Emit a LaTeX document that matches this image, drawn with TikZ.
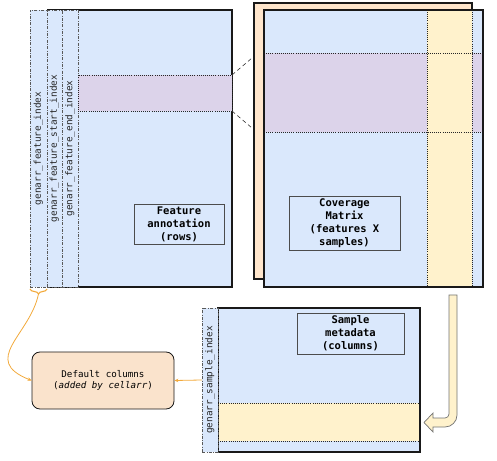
\documentclass[tikz,border=0pt]{standalone}
\usepackage{fontspec}
\setmonofont{DejaVu Sans Mono}
\usetikzlibrary{positioning, calc, arrows.meta}
\usetikzlibrary{decorations.pathreplacing}

\definecolor{tblue}{HTML}{DAE8FC}
\definecolor{tpurple}{HTML}{DCD3EA}
\definecolor{tyellow}{HTML}{FFF2CC}
\definecolor{tpeach}{HTML}{FFE6CC}
\definecolor{tdefault}{HTML}{FAE3CC}
\definecolor{torange}{HTML}{F2A93B}

\tikzset{
  sheet/.style={draw=black!90, line width=1.3pt, fill=tblue, inner sep=0pt, outer sep=0pt, anchor=north west},
  sheetline/.style={draw=black!90, line width=1.3pt},
  patch/.style={inner sep=0pt, outer sep=0pt, anchor=north west},
  dotline/.style={draw=black!85, line width=0.6pt, dash pattern=on 0.8pt off 1.3pt},
  idxcol/.style={draw=black!65, line width=0.5pt, dash pattern=on 3pt off 1.5pt on 0.6pt off 1.5pt, fill=tblue, inner sep=0pt, outer sep=0pt, anchor=north west},
  idxtext/.style={rotate=90, text=black!85, font=\ttfamily\fontsize{9.4}{10}\selectfont},
  tag/.style={draw=black!70, line width=0.6pt, align=center, inner sep=0pt, font=\ttfamily\bfseries\fontsize{10.5}{13}\selectfont},
  zoomline/.style={draw=black!80, line width=0.6pt, dash pattern=on 4pt off 3pt},
  feed/.style={draw=torange, line width=0.8pt, -{Stealth[length=4pt,width=3.5pt]}},
}

\begin{document}
\begin{tikzpicture}[x=1pt,y=1pt]
\useasboundingbox (0,0) rectangle (497,460);

% coverage matrix
\node[sheet, fill=tpeach, minimum width=218pt, minimum height=276pt] (covback) at (254,457) {};
\node[sheet, minimum width=219pt, minimum height=277pt] (cov) at (264,450) {};
\node[patch, fill=tpurple, minimum width=219pt, minimum height=79pt] (covband) at (264,407) {};
\node[patch, fill=tyellow, minimum width=45pt, minimum height=277pt] (covcol) at (427,450) {};
\draw[dotline] (covband.north west) -- (covband.north east);
\draw[dotline] (covband.south west) -- (covband.south east);
\draw[dotline] (covcol.north west) -- (covcol.south west);
\draw[dotline] (covcol.north east) -- (covcol.south east);
\draw[sheetline] (cov.north west) rectangle (cov.south east);
\node[tag, minimum width=111pt, minimum height=54pt] (covtag) at (344.5,237) {Coverage\\Matrix\\(features X\\samples)};

% feature annotation
\node[patch, fill=tblue, minimum width=185pt, minimum height=277pt] (feat) at (47,450) {};
\draw[sheetline] (feat.north west) -- (feat.north east) -- (feat.south east) -- (feat.south west);
\node[idxcol, minimum width=17pt, minimum height=277pt] (fidx) at (30,450) {};
\node[idxcol, minimum width=15pt, minimum height=277pt] (fstart) at (fidx.north east) {};
\node[idxcol, minimum width=16pt, minimum height=277pt] (fend) at (fstart.north east) {};
\node[idxtext] at (fidx) {genarr\_feature\_index};
\node[idxtext] at (fstart) {genarr\_feature\_start\_index};
\node[idxtext] at (fend) {genarr\_feature\_end\_index};
\node[patch, fill=tpurple, dotline, minimum width=154pt, minimum height=36pt] (featband) at (78,385) {};
\node[tag, minimum width=90pt, minimum height=40pt] (feattag) at (179,236) {Feature\\annotation\\(rows)};

% rows picked out in the matrix
\coordinate (bandtop) at (252,402);
\coordinate (bandbot) at (252,332);
\draw[zoomline] (featband.north east) -- (bandtop);
\draw[zoomline] (featband.south east) -- (bandbot);

% sample metadata
\node[sheet, minimum width=202pt, minimum height=144pt] (samp) at (218,152) {};
\node[patch, fill=tyellow, minimum width=202pt, minimum height=38pt] (sampband) at (218,57) {};
\draw[dotline] (sampband.north west) -- (sampband.north east);
\draw[dotline] (sampband.south west) -- (sampband.south east);
\draw[sheetline] (samp.north west) rectangle (samp.south east);
\node[idxcol, minimum width=16pt, minimum height=144pt] (sidx) at (202,152) {};
\node[idxtext] at (sidx) {genarr\_sample\_index};
\node[tag, minimum width=107pt, minimum height=41pt] (samptag) at (350.5,126.5) {Sample\\metadata\\(columns)};

% column of the matrix to a row of the metadata
\draw[draw=black!55, line width=0.7pt, fill=tyellow]
  (449,165) -- (457,165) -- (457,45) arc[start angle=0, end angle=-90, radius=12]
  -- (433,33) -- (433,28) -- (424,37.5) -- (433,47) -- (433,42) -- (445,42)
  arc[start angle=-90, end angle=0, radius=4] -- cycle;

% default columns
\node[draw=black!90, line width=0.8pt, fill=tdefault, rounded corners=8pt,
  minimum width=142pt, minimum height=57pt, align=center,
  font=\ttfamily\fontsize{9.2}{11.7}\selectfont] (defcols) at (103,79.5)
  {Default columns\\(\textit{added by cellarr})};
\draw[feed] (sidx.west) -- (defcols.east);
\draw[draw=torange, line width=1.1pt, decorate, decoration={brace, amplitude=5pt, mirror}]
  ([yshift=-2pt]fidx.south west) -- ([yshift=-2pt]fidx.south east);
\coordinate (bracetip) at ([yshift=-7pt]fidx.south);
\draw[feed] (bracetip) .. controls (30,125) and (-20,100) .. (defcols.west);
\end{tikzpicture}
\end{document}
